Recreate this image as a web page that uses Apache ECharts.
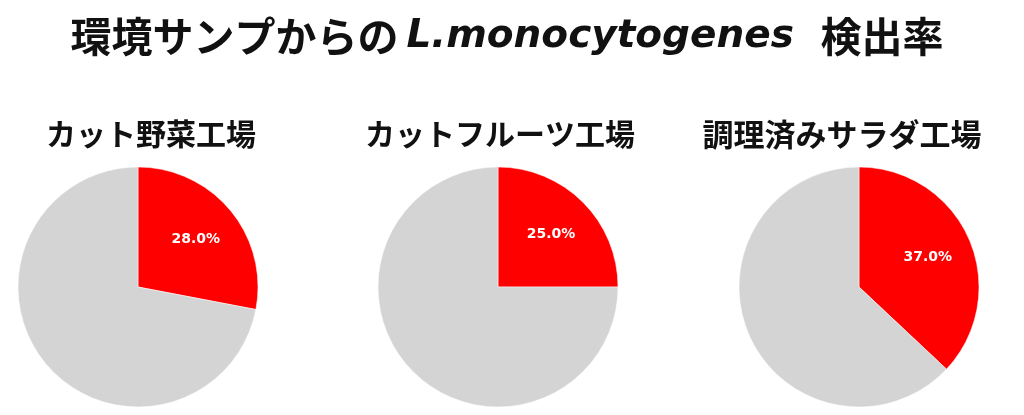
<!DOCTYPE html>
<html lang="ja">
<head>
<meta charset="utf-8">
<title>環境サンプからのL.monocytogenes 検出率</title>
<script src="https://cdn.jsdelivr.net/npm/echarts@6/dist/echarts.min.js"></script>
<style>
  html, body { margin: 0; padding: 0; background: #ffffff; }
  #chart { width: 1024px; height: 415px; }
</style>
</head>
<body>
<div id="chart"></div>
<script>
"use strict";

// Plant types, one pie each, left to right.
const PLANTS = ["カット野菜工場", "カットフルーツ工場", "調理済みサラダ工場"];
// Share of environmental samples positive for L. monocytogenes (%).
const DETECTED = [28.0, 25.0, 37.0];
// Remaining (negative) share of samples (%).
const NOT_DETECTED = [72.0, 75.0, 63.0];

const RED = "#ff0000";
const GREY = "#d4d4d4";
const JP_FONT = "'Noto Sans CJK JP', 'Noto Sans', sans-serif";

// Pie geometry: three equal discs on one row.
const CENTERS_X = [138, 498, 859];
const CENTER_Y = 287;
const RADIUS = 120;
// Subtitle centers (not exactly above each disc in the source picture).
const SUBTITLE_X = [146, 495, 837];

const chart = echarts.init(document.getElementById("chart"), null, { renderer: "canvas" });

const titles = [
  {
    text: "{jp|環境サンプからの}{it|L.monocytogenes}{jp|  検出率}",
    left: 502,
    top: 11,
    textAlign: "center",
    textStyle: {
      rich: {
        jp: { fontFamily: JP_FONT, fontWeight: "bold", fontSize: 41, color: "#111" },
        // Species name in italics, with a little air either side as in the source.
        it: {
          fontFamily: "'DejaVu Sans', sans-serif",
          fontStyle: "italic",
          fontWeight: "bold",
          fontSize: 39,
          color: "#111",
          padding: [0, 8, 0, 8],
        },
      },
    },
  },
];

const series = [];
PLANTS.forEach((name, i) => {
  titles.push({
    text: name,
    left: SUBTITLE_X[i],
    top: 114,
    textAlign: "center",
    textStyle: { fontFamily: JP_FONT, fontWeight: "bold", fontSize: i === 2 ? 31 : 30, color: "#111" },
  });

  const data = [
    { name: "検出", value: DETECTED[i], itemStyle: { color: RED } },
    { name: "不検出", value: NOT_DETECTED[i], itemStyle: { color: GREY } },
  ];

  // The visible disc.
  series.push({
    type: "pie",
    center: [CENTERS_X[i], CENTER_Y],
    radius: [0, RADIUS],
    startAngle: 90,
    clockwise: true,
    silent: true,
    animation: false,
    label: { show: false },
    labelLine: { show: false },
    itemStyle: { borderColor: "#ffffff", borderWidth: 0.5 },
    data: data,
  });

  // Transparent twin carrying only the label: ECharts puts inside labels at
  // half the radius, the source has them at ~60%, so use a larger ghost ring.
  series.push({
    type: "pie",
    center: [CENTERS_X[i], CENTER_Y],
    radius: [0, RADIUS * 1.2],
    startAngle: 90,
    clockwise: true,
    silent: true,
    animation: false,
    itemStyle: { color: "transparent" },
    label: {
      position: "inside",
      color: "#ffffff",
      fontFamily: "'DejaVu Sans', sans-serif",
      fontWeight: "bold",
      fontSize: 14,
      formatter: (p) => (p.dataIndex === 0 ? p.value.toFixed(1) + "%" : ""),
    },
    labelLine: { show: false },
    data: data.map((d) => ({ name: d.name, value: d.value })),
  });
});

chart.setOption({
  backgroundColor: "#ffffff",
  animation: false,
  title: titles,
  series: series,
});
</script>
</body>
</html>
